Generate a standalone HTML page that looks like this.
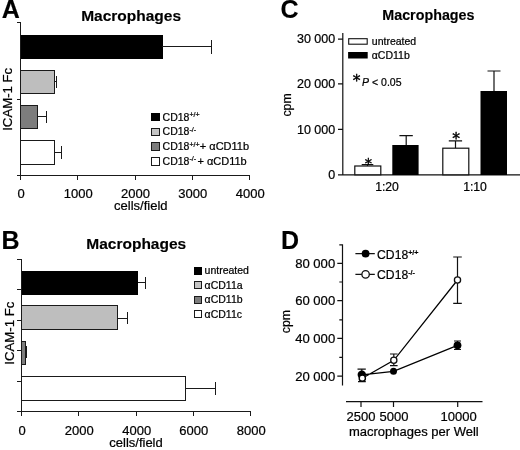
<!DOCTYPE html>
<html><head><meta charset="utf-8"><title>Figure</title>
<style>
html,body{margin:0;padding:0;background:#fff;}
svg{display:block;font-family:"Liberation Sans",Arial,sans-serif;fill:#000;}
.ax{stroke:#1a1a1a;stroke-width:1;fill:none;shape-rendering:crispEdges;}
#A rect,#B rect{shape-rendering:crispEdges;}
.ax2{stroke:#111;stroke-width:1.2;fill:none;}
.ln{stroke:#000;stroke-width:1.25;fill:none;}
text{stroke:#000;stroke-width:0.22;}
.b{font-weight:bold;stroke-width:0.15;}
</style></head><body>
<svg width="520" height="450" viewBox="0 0 520 450">
<rect width="520" height="450" fill="#fff"/>

<!-- Panel A -->
<g id="A">
<text class="b" x="1.8" y="17.5" font-size="25">A</text>
<text class="b" x="131.1" y="20.5" font-size="15.5" text-anchor="middle">Macrophages</text>
<text transform="translate(11.8,99.3) rotate(-90)" font-size="13.2" text-anchor="middle">ICAM-1 Fc</text>
<path class="ax" d="M20.5 22V176M17 22.500H20.5M17 99H20.5M16.500 175.500H250M20.5 175.500V180M77.500 175.500V180M135 175.500V180M192.500 175.500V180M249.500 175.500V180"/>
<rect x="20.500" y="35" width="142" height="24.200" fill="#000"/>
<path class="ax" d="M162 46.500H211M211.200 40V53.500"/>
<rect x="20.500" y="70.500" width="34" height="23" fill="#bebebe" stroke="#1a1a1a"/>
<path class="ax" d="M54.500 81.500H56.500M56.500 75.500V87.500"/>
<rect x="20.500" y="105" width="17" height="23.500" fill="#7d7d7d" stroke="#1a1a1a"/>
<path class="ax" d="M38 116.500H46.500M46.500 111V123"/>
<rect x="20.500" y="140.500" width="33.500" height="23.500" fill="#fff" stroke="#1a1a1a"/>
<path class="ax" d="M54 152H61M61 145.500V158.500"/>
<g font-size="13" text-anchor="middle">
<text x="21" y="197.500">0</text><text x="78.200" y="197.500">1000</text><text x="135.400" y="197.500">2000</text><text x="192.800" y="197.500">3000</text><text x="250.300" y="197.500">4000</text>
<text x="140.800" y="210.400">cells/field</text>
</g>
<g font-size="10.500">
<rect x="151.800" y="113.200" width="7.500" height="7.500" fill="#000" stroke="#000"/>
<rect x="151.800" y="128" width="7.500" height="7.500" fill="#c4c4c4" stroke="#1a1a1a"/>
<rect x="151.800" y="142.800" width="7.500" height="7.500" fill="#7d7d7d" stroke="#1a1a1a"/>
<rect x="151.800" y="157.500" width="7.500" height="7.500" fill="#fff" stroke="#1a1a1a"/>
<text x="162.600" y="120.500">CD18<tspan font-size="7" dy="-3.500">+/+</tspan></text>
<text x="162.600" y="135.300">CD18<tspan font-size="7" dy="-3.500">-/-</tspan></text>
<text x="162.600" y="150.100">CD18<tspan font-size="7" dy="-3.500">+/+</tspan><tspan dy="3.500" dx="-2.800" font-size="11"> + αCD11b</tspan></text>
<text x="162.600" y="164.900">CD18<tspan font-size="7" dy="-3.500">-/-</tspan><tspan dy="3.500" dx="-1.700" font-size="11"> + αCD11b</tspan></text>
</g>
</g>

<!-- Panel B -->
<g id="B">
<text class="b" x="1.5" y="248.7" font-size="25">B</text>
<text class="b" x="136.25" y="249.4" font-size="15.5" text-anchor="middle">Macrophages</text>
<text transform="translate(13.9,333.2) rotate(-90)" font-size="13.2" text-anchor="middle">ICAM-1 Fc</text>
<path class="ax" d="M21.500 258.500V412M17 259H21.500M17 289.500H21.500M17 320H21.500M17 350.500H21.500M17 381.300H21.500M16.500 411.800H251M21.500 411.800V416.300M78.500 411.800V416.300M136 411.800V416.300M193.200 411.800V416.300M250.500 411.800V416.300"/>
<rect x="21.500" y="271.300" width="116.800" height="23.700" fill="#000"/>
<path class="ax" d="M138 282.800H145M145.200 277.200V288.500"/>
<rect x="21.500" y="305.800" width="95.500" height="23.800" fill="#bebebe" stroke="#1a1a1a"/>
<path class="ax" d="M117 318.200H127M127 311.700V324.300"/>
<rect x="21.500" y="341" width="4" height="23.500" fill="#7d7d7d" stroke="#1a1a1a"/>
<path class="ax" d="M25.500 352H26M26.200 345.600V358"/>
<rect x="21.500" y="376.500" width="164" height="23.500" fill="#fff" stroke="#1a1a1a"/>
<path class="ax" d="M185.500 388.500H215M215 382.300V395"/>
<g font-size="13" text-anchor="middle">
<text x="22" y="434.800">0</text><text x="79.200" y="434.800">2000</text><text x="136.700" y="434.800">4000</text><text x="193.800" y="434.800">6000</text><text x="251.300" y="434.800">8000</text>
<text x="136" y="447.200">cells/field</text>
</g>
<g font-size="10.500">
<rect x="194" y="267.150" width="7" height="7" fill="#000" stroke="#000"/>
<rect x="194" y="281.800" width="7" height="7" fill="#c4c4c4" stroke="#1a1a1a"/>
<rect x="194" y="296.400" width="7" height="7" fill="#7d7d7d" stroke="#1a1a1a"/>
<rect x="194" y="310.800" width="7" height="7" fill="#fff" stroke="#1a1a1a"/>
<text x="204.600" y="274.100">untreated</text>
<text x="204.600" y="288.700">αCD11a</text>
<text x="204.600" y="303.400">αCD11b</text>
<text x="204.600" y="318.200">αCD11c</text>
</g>
</g>

<!-- Panel C -->
<g id="C">
<text class="b" x="280.500" y="17.800" font-size="25">C</text>
<text class="b" x="428.400" y="20.400" font-size="14.300" text-anchor="middle">Macrophages</text>
<text transform="translate(291.200,105) rotate(-90)" font-size="12.300" text-anchor="middle">cpm</text>
<path class="ax2" d="M342.800 33V175.400M338 39.200H342.800M338 83.800H342.800M338 129.300H342.800M338 174.800H520"/>
<g font-size="12.500" text-anchor="end">
<text x="335.200" y="43.200">30 000</text><text x="335.200" y="88">20 000</text><text x="335.200" y="133.500">10 000</text><text x="335.200" y="179">0</text>
</g>
<rect x="354.800" y="166" width="26" height="8.800" fill="#fff" stroke="#111" stroke-width="1.200"/>
<path class="ax2" d="M367.500 166V164.600M361.700 164.600H373.300"/>
<rect x="392.300" y="145" width="26.300" height="30" fill="#000"/>
<path class="ax2" d="M406.200 145V135.700M399.400 135.700H412.800"/>
<rect x="442.800" y="148.200" width="26" height="26.600" fill="#fff" stroke="#111" stroke-width="1.200"/>
<path class="ax2" d="M455.500 148V140.900M448.800 140.900H462.100"/>
<rect x="480.500" y="91" width="26.500" height="84" fill="#000"/>
<path class="ax2" d="M494 91V71M487.500 71H500.500"/>
<text x="368.400" y="167.900" font-size="14.500" text-anchor="middle" font-family="DejaVu Sans, sans-serif" style="stroke-width:0.45">*</text>
<text x="456.100" y="144.200" font-size="15.500" text-anchor="middle" font-family="DejaVu Sans, sans-serif" style="stroke-width:0.45">*</text>
<g font-size="12.200" text-anchor="middle"><text x="387" y="191">1:20</text><text x="475" y="191">1:10</text></g>
<rect x="348.700" y="38.700" width="18.500" height="5.500" fill="#fff" stroke="#111" stroke-width="1.100"/>
<rect x="348.100" y="52" width="19.600" height="6.500" fill="#000"/>
<g font-size="10.500"><text x="371.800" y="44.500">untreated</text><text x="371.800" y="59.200">αCD11b</text></g>
<text x="352.800" y="86.200" font-size="15.500" font-family="DejaVu Sans, sans-serif" style="stroke-width:0.45">*</text>
<text x="362.100" y="86.200" font-size="10.500"><tspan font-style="italic">P</tspan> &lt; 0.05</text>
</g>

<!-- Panel D -->
<g id="D">
<text class="b" x="280.900" y="248.800" font-size="25">D</text>
<text transform="translate(290.300,321.600) rotate(-90)" font-size="12.300" text-anchor="middle">cpm</text>
<path class="ax2" d="M342.500 244.300V385.500M337.300 263.300H342.500M337.300 300.600H342.500M337.300 338.400H342.500M337.300 376.100H342.500M339.300 244.900H342.500M339.300 282H342.500M339.300 319.800H342.500M339.300 357.400H342.500"/>
<path class="ax2" d="M346 401.700H482.500M361 401.700V407M393.500 401.700V407M457.700 401.700V407"/>
<g font-size="13.100" text-anchor="end">
<text x="335.200" y="268.100">80 000</text><text x="335.200" y="305.300">60 000</text><text x="335.200" y="343.200">40 000</text><text x="335.200" y="380.800">20 000</text>
</g>
<g font-size="13" text-anchor="middle">
<text x="361" y="420.600">2500</text><text x="394" y="420.600">5000</text><text x="458.700" y="420.600">10000</text>
<text x="413.800" y="435.500">macrophages per Well</text>
</g>
<path class="ln" d="M361.800 374.800L393.500 371.300L457.500 345.300M362.300 378.200L393.800 360.300L457.500 280"/>
<path class="ax2" d="M457.500 257V303.300M453.200 257H461.800M453.200 303.300H461.800M457.500 341V349.500M454 341H461M454 349.500H461M393.800 354V365.600M390 354H397.600M390 365.600H397.600M361.800 369.100V381.700M357.500 369.100H365.800M358 381.700H365.800"/>
<circle cx="361.800" cy="374.800" r="4.200" fill="#000"/>
<circle cx="393.500" cy="371.300" r="3.500" fill="#000"/>
<circle cx="457.500" cy="345.300" r="3.900" fill="#000"/>
<circle cx="362.300" cy="378.200" r="3.100" fill="#fff" stroke="#000" stroke-width="1.400"/>
<circle cx="393.800" cy="360.300" r="3.100" fill="#fff" stroke="#111" stroke-width="1.300"/>
<circle cx="457.500" cy="280" r="3.100" fill="#fff" stroke="#111" stroke-width="1.300"/>
<path class="ax2" d="M355.400 253.600H374.800M355.400 274.400H374.800"/>
<circle cx="365.600" cy="253.600" r="3.900" fill="#000"/>
<circle cx="365.600" cy="274.400" r="3.700" fill="#fff" stroke="#111" stroke-width="1.300"/>
<g font-size="12.150">
<text x="377.100" y="259">CD18<tspan class="b" font-size="7.200" dy="-4">+/+</tspan></text>
<text x="377.100" y="278.500">CD18<tspan class="b" font-size="7.200" dy="-4">-/-</tspan></text>
</g>
</g>
</svg>
</body></html>
